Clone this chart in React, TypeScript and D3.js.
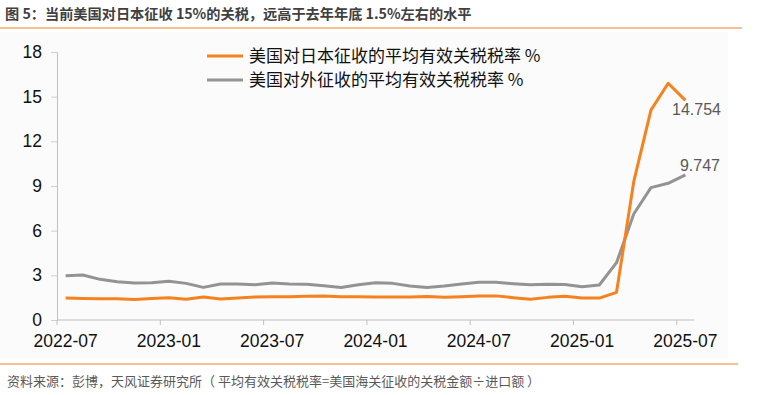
import React, { useEffect, useRef } from "react";
import * as d3 from "d3";

// monthly, 2022-07 .. 2025-07
const months: string[] = [];
for (let y = 2022; y <= 2025; y++) {
  for (let m = 1; m <= 12; m++) {
    const s = `${y}-${String(m).padStart(2, "0")}`;
    if (s >= "2022-07" && s <= "2025-07") months.push(s);
  }
}

const japanRate = [
  1.48, 1.45, 1.43, 1.43, 1.37, 1.45, 1.5, 1.39, 1.54, 1.41, 1.48, 1.54, 1.56, 1.56, 1.6,
  1.61, 1.56, 1.56, 1.54, 1.54, 1.54, 1.58, 1.52, 1.56, 1.61, 1.62, 1.5, 1.4,
  1.52, 1.6, 1.47, 1.47, 1.86, 9.29, 14.1, 15.9, 14.754,
];

const totalRate = [
  2.97, 3.02, 2.73, 2.57, 2.48, 2.5, 2.6, 2.46, 2.19, 2.42, 2.42, 2.37, 2.48, 2.42, 2.4,
  2.3, 2.19, 2.37, 2.5, 2.46, 2.28, 2.19, 2.28, 2.42, 2.53, 2.53, 2.44, 2.36,
  2.4, 2.38, 2.23, 2.35, 3.85, 7.12, 8.89, 9.18, 9.747,
];

const yTicks = [0, 3, 6, 9, 12, 15, 18];
const xTickLabels = ["2022-07", "2023-01", "2023-07", "2024-01", "2024-07", "2025-01", "2025-07"];

const seriesNames = ["美国对日本征收的平均有效关税税率 %", "美国对外征收的平均有效关税税率 %"];
const colors = ["#F5821F", "#939393"];

const title = "图 5：当前美国对日本征收 15%的关税，远高于去年年底 1.5%左右的水平";
const source = "资料来源：彭博，天风证券研究所（ 平均有效关税税率=美国海关征收的关税金额÷进口额 ）";

const W = 758;
const H = 395;
const FONT = "'Liberation Sans', Arial, 'Noto Sans CJK SC', sans-serif";
const CJK = "'Noto Sans CJK SC', 'Liberation Sans', sans-serif";

export default function App() {
  const ref = useRef<SVGSVGElement>(null);

  useEffect(() => {
    const svg = d3.select(ref.current);
    svg.selectAll("*").remove();

    // background panel
    svg.append("rect").attr("x", 0).attr("y", 0).attr("width", W).attr("height", H).attr("fill", "#ffffff");
    svg.append("rect").attr("x", 0).attr("y", 32).attr("width", 728).attr("height", 326).attr("fill", "#fbfbfb");

    // title + rules
    svg.append("text")
      .attr("x", 5).attr("y", 19)
      .style("font-family", CJK).style("font-size", "14.2px").style("font-weight", "bold")
      .attr("fill", "#404040")
      .text(title);
    svg.append("line").attr("x1", 0).attr("x2", 742).attr("y1", 28).attr("y2", 28)
      .attr("stroke", "#F5821F").attr("stroke-width", 1.2);
    svg.append("line").attr("x1", 0).attr("x2", 738).attr("y1", 364).attr("y2", 364)
      .attr("stroke", "#F5821F").attr("stroke-width", 1.2);
    svg.append("text")
      .attr("x", 7).attr("y", 386)
      .style("font-family", CJK).style("font-size", "13px")
      .attr("fill", "#595959")
      .text(source);

    const x = d3.scaleBand<string>().domain(months).range([57, 694]).padding(0);
    const y = d3.scaleLinear().domain([0, 18]).range([320, 52]);
    const cx = (i: number) => (x(months[i]) as number) + x.bandwidth() / 2;

    // y axis
    const gy = svg.append("g").attr("transform", "translate(57,0)")
      .call(d3.axisLeft(y).tickValues(yTicks).tickSize(6).tickPadding(9));
    gy.select(".domain").attr("stroke", "#c0c0c0");
    gy.selectAll(".tick line").attr("stroke", "#d0d0d0");
    gy.selectAll(".tick text").attr("fill", "#111").style("font-family", FONT).style("font-size", "17.5px");

    // x axis
    const gx = svg.append("g").attr("transform", "translate(0,320)");
    gx.append("line").attr("x1", 57).attr("x2", 694).attr("stroke", "#c0c0c0").attr("stroke-width", 1.2);
    xTickLabels.forEach((lab) => {
      const px = x(lab) as number;
      gx.append("line").attr("x1", px).attr("x2", px).attr("y1", 0).attr("y2", 5).attr("stroke", "#c0c0c0");
      gx.append("text")
        .attr("x", px + x.bandwidth() / 2).attr("y", 27)
        .attr("text-anchor", "middle")
        .style("font-family", FONT).style("font-size", "17.5px").attr("fill", "#111")
        .text(lab);
    });

    const line = d3.line<number>().x((_, i) => cx(i)).y((d) => y(d));

    [totalRate, japanRate].forEach((s, k) => {
      svg.append("path")
        .datum(s)
        .attr("d", line)
        .attr("fill", "none")
        .attr("stroke", k === 0 ? colors[1] : colors[0])
        .attr("stroke-width", 3)
        .attr("stroke-linejoin", "round");
    });

    // end labels
    const last = months.length - 1;
    svg.append("text")
      .attr("x", 721).attr("y", y(japanRate[last]) + 15)
      .attr("text-anchor", "end")
      .style("font-family", FONT).style("font-size", "16px").attr("fill", "#595959")
      .text(String(japanRate[last]));
    svg.append("text")
      .attr("x", 720).attr("y", y(totalRate[last]) - 4)
      .attr("text-anchor", "end")
      .style("font-family", FONT).style("font-size", "16px").attr("fill", "#595959")
      .text(String(totalRate[last]));

    // legend
    seriesNames.forEach((name, i) => {
      const ly = 56 + i * 24;
      svg.append("line").attr("x1", 207).attr("x2", 243).attr("y1", ly).attr("y2", ly)
        .attr("stroke", colors[i]).attr("stroke-width", 3);
      svg.append("text")
        .attr("x", 249).attr("y", ly + 6)
        .style("font-family", CJK).style("font-size", "17px").attr("fill", "#111")
        .text(name);
    });
  }, []);

  return (
    <svg ref={ref} width={W} height={H} style={{ position: "absolute", left: 0, top: 0, display: "block" }} />
  );
}
